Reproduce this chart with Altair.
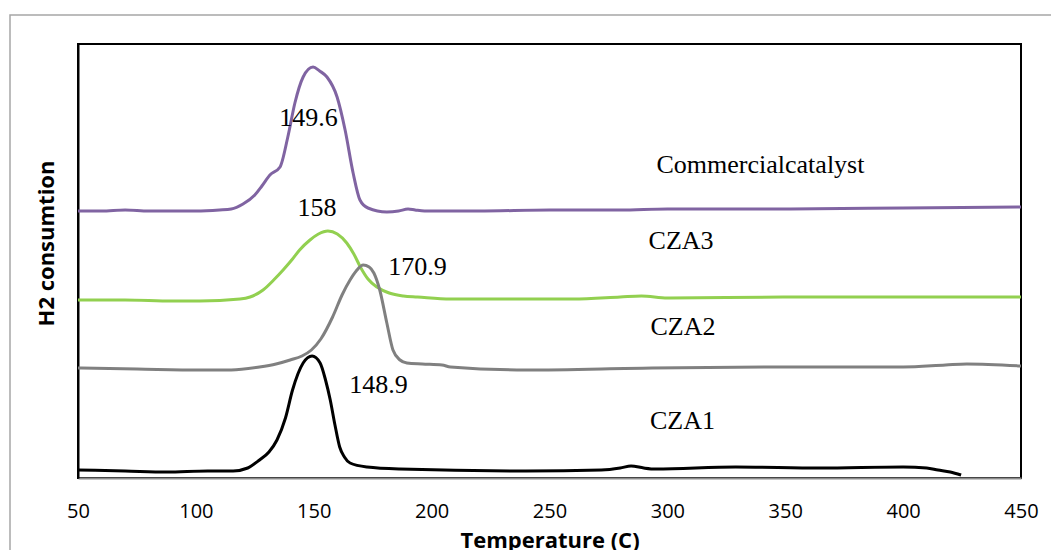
import altair as alt
import pandas as pd

# Commercial catalyst (purple)
com_t = [50, 60, 70, 80, 90, 100, 110, 115, 120, 125, 128, 131.4, 135.7, 139, 142, 145.5, 149.7, 152.5,
         155.6, 159.9, 163.3, 166.7, 169.6, 173, 181, 186, 190, 193, 197, 200, 220, 250, 280, 300, 350, 400, 450]
com_v = [267, 267, 268, 267, 267, 267, 268, 269, 274, 283, 292, 303, 311, 341, 375, 401, 411, 407,
         401, 381, 348, 305, 278, 270, 266, 267, 269, 268, 267, 267, 267, 268, 268, 269, 269, 270, 271]

# CZA3 (green)
cza3_t = [50, 70, 90, 101.7, 118.7, 123, 128.5, 133, 137, 141, 144, 148.4, 152, 156, 160, 164, 167,
          170, 173, 176.8, 182, 188, 194, 208, 230, 260, 280, 289, 300, 350, 400, 450]
cza3_v = [178, 178, 177, 177, 179, 181, 188, 198, 208, 219, 228, 238, 244, 247, 244, 235, 224,
          210, 199, 191, 185, 182, 181, 179, 179, 179, 181, 182, 180, 181, 181, 181]

# CZA2 (gray)
cza2_t = [50, 75, 101.7, 115, 127, 134, 140, 145, 149, 153, 158, 162, 165.4, 168, 171, 173.5, 175.5,
          178, 181, 183.6, 186.6, 189.5, 196, 204.4, 208, 240, 293.5, 347, 400, 418, 427, 450]
cza2_v = [110, 109, 108, 108, 111, 114, 118, 122, 128, 139, 161, 183, 198, 207, 213, 211, 205,
          188, 155, 128, 118, 115, 114, 113, 111, 108, 110, 111, 111, 113, 114, 112]

# CZA1 (black)
cza1_t = [50, 70, 87.6, 105, 115.8, 122, 127, 131, 134.4, 138, 141, 145.5, 149.3, 152.7, 155, 157, 159,
          161, 163, 165.4, 172.6, 186.6, 240, 272, 280, 284.6, 290, 295, 329, 364.7, 400, 410, 414.8, 420, 424.6]
cza1_v = [8, 7, 6, 7, 7, 10, 18, 26, 38, 60, 88, 115, 122, 115, 98, 78, 53,
          31, 21, 15, 11, 9, 7, 8, 10, 12, 10, 9, 11, 10, 11, 10, 8, 6, 3]

series_names = ["Commercial catalyst", "CZA3", "CZA2", "CZA1"]
series_colors = ["#8064A2", "#92D050", "#808080", "#000000"]

label_text = ["149.6", "158", "170.9", "148.9", "Commercialcatalyst", "CZA3", "CZA2", "CZA1"]
label_t = [147.8, 151.4, 194.0, 177.5, 339.5, 305.8, 306.6, 306.4]
label_v = [360, 270, 211, 93, 313, 237, 151.5, 57]

x_ticks = [50, 100, 150, 200, 250, 300, 350, 400, 450]

rows = []
for name, ts, vs in zip(series_names, [com_t, cza3_t, cza2_t, cza1_t], [com_v, cza3_v, cza2_v, cza1_v]):
    for t, v in zip(ts, vs):
        rows.append({"series": name, "T": t, "v": v})
df = pd.DataFrame(rows)
labels = pd.DataFrame({"text": label_text, "T": label_t, "v": label_v})

x_scale = alt.Scale(domain=[50, 450], nice=False)
y_scale = alt.Scale(domain=[0, 434], nice=False)

lines = alt.Chart(df).mark_line(strokeWidth=3, interpolate="monotone").encode(
    x=alt.X("T:Q", scale=x_scale, axis=alt.Axis(
        values=x_ticks, title="Temperature (C)", grid=False, ticks=False,
        labelFont="Open Sans", labelFontSize=20, labelColor="#000000", labelPadding=23,
        labelFlush=False, labelOverlap=False,
        titleFont="Open Sans", titleFontSize=22, titleFontWeight="bold", titleColor="#000000",
        titleY=52, titleBaseline="top",
        domainColor="#8c8c8c", domainWidth=2)),
    y=alt.Y("v:Q", scale=y_scale, axis=alt.Axis(
        labels=False, ticks=False, grid=False, title="H2 consumtion",
        titleFont="Open Sans", titleFontSize=22, titleFontWeight="bold", titleColor="#000000",
        titleAngle=270, titleX=-32, titleY=199, titleAlign="center", titleBaseline="middle",
        domainColor="#000000", domainWidth=2)),
    color=alt.Color("series:N", scale=alt.Scale(domain=series_names, range=series_colors), legend=None),
    detail="series:N",
)

texts = alt.Chart(labels).mark_text(font="Liberation Serif", fontSize=26, align="center",
                                    baseline="middle", color="#000000").encode(
    x=alt.X("T:Q", scale=x_scale),
    y=alt.Y("v:Q", scale=y_scale),
    text="text:N",
)

border = alt.Chart(pd.DataFrame({"a": [0]})).mark_rect(
    fill=None, stroke="#a6a6a6", strokeWidth=1.5, clip=False).encode(
    x=alt.value(-68), x2=alt.value(1100), y=alt.value(-29), y2=alt.value(700))

chart = alt.layer(border, lines, texts).properties(
    width=943, height=434,
    autosize=alt.AutoSizeParams(type="none"),
    padding={"left": 70, "top": 36, "right": 30, "bottom": 72},
).configure(
    background="white",
    view=alt.ViewConfig(stroke="#000000", strokeWidth=2),
)

chart.save("out.html", embed_options={"renderer": "svg", "actions": False})
